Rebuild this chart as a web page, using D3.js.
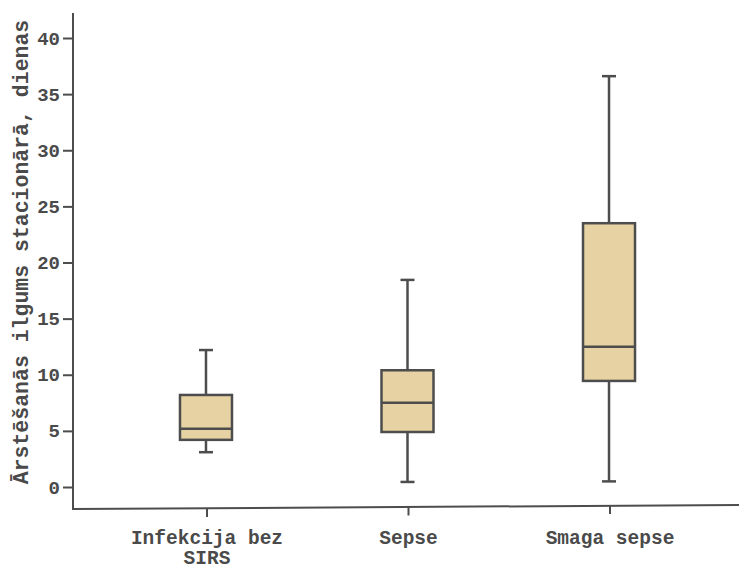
<!DOCTYPE html>
<html>
<head>
<meta charset="utf-8">
<script src="https://cdn.jsdelivr.net/npm/d3@7"></script>
<style>
  body { margin: 0; background: #fff; }
  text { font-family: "Liberation Mono", "Courier New", monospace; font-weight: bold; fill: #4a4a4a; }
</style>
</head>
<body>
<script>
    "use strict";
    // box plot values (days)
    let categories = ["Infekcija bez\nSIRS", "Sepse", "Smaga sepse"];
    let whiskerLow = [3.1, 0.45, 0.5];
    let q1 = [4.2, 4.9, 9.45];
    let median = [5.2, 7.5, 12.5];
    let q3 = [8.2, 10.4, 23.5];
    let whiskerHigh = [12.2, 18.45, 36.6];
    let yTicks = [0, 5, 10, 15, 20, 25, 30, 35, 40];

    let width = 739, height = 569;
    let ink = "#4d4d4d";

    let svg = d3.select("body").append("svg")
        .attr("width", width)
        .attr("height", height);

    let data = categories.map((c, i) => ({
        name: c, lo: whiskerLow[i], q1: q1[i], med: median[i], q3: q3[i], hi: whiskerHigh[i]
    }));

    let xScale = d3.scalePoint()
        .domain(categories)
        .range([75, 740])
        .padding(0.65);

    let yScale = d3.scaleLinear()
        .domain([0, 40])
        .range([487, 38]);

    // axes
    let yAxis = d3.axisLeft(yScale).tickValues(yTicks).tickSize(10).tickPadding(3);
    let gy = svg.append("g")
        .attr("transform", "translate(73,0)")
        .call(yAxis);
    gy.select(".domain").remove();
    gy.selectAll(".tick line").attr("stroke", ink).attr("stroke-width", 2);
    gy.selectAll(".tick text").style("font-size", "19px").attr("fill", "#4a4a4a");

    svg.append("line")
        .attr("x1", 73).attr("x2", 73)
        .attr("y1", 13).attr("y2", 509)
        .attr("stroke", ink).attr("stroke-width", 2);
    svg.append("line")
        .attr("x1", 72).attr("x2", 739)
        .attr("y1", 509).attr("y2", 505)
        .attr("stroke", ink).attr("stroke-width", 2);

    let gx = svg.append("g");
    gx.selectAll(".xtick")
        .data(categories)
        .enter()
        .append("line")
            .attr("x1", d => xScale(d) + 1).attr("x2", d => xScale(d) + 1)
            .attr("y1", (d, i) => 508 - i * 1.5).attr("y2", (d, i) => 517 - i * 1.5)
            .attr("stroke", ink).attr("stroke-width", 2);

    gx.selectAll(".xlabel")
        .data(categories)
        .enter()
        .append("text")
            .attr("x", d => xScale(d) + 1)
            .attr("y", 544)
            .attr("text-anchor", "middle")
            .style("font-size", "19.5px")
            .each(function(d) {
                let lines = d.split("\n");
                let t = d3.select(this);
                lines.forEach((l, k) => {
                    t.append("tspan")
                        .attr("x", xScale(d) + 1)
                        .attr("dy", k === 0 ? 0 : 19.5)
                        .text(l);
                });
            });

    // y title
    svg.append("text")
        .attr("transform", "translate(28,252) rotate(-90)")
        .attr("text-anchor", "middle")
        .style("font-size", "21.5px")
        .text("Ārstēšanās ilgums stacionārā, dienas");

    // boxes
    let boxW = 52, capW = 14;
    let g = svg.selectAll(".box")
        .data(data)
        .enter()
        .append("g");

    g.append("line")
        .attr("x1", d => xScale(d.name)).attr("x2", d => xScale(d.name))
        .attr("y1", d => yScale(d.lo)).attr("y2", d => yScale(d.hi))
        .attr("stroke", ink).attr("stroke-width", 2.5);
    g.append("line")
        .attr("x1", d => xScale(d.name) - capW / 2).attr("x2", d => xScale(d.name) + capW / 2)
        .attr("y1", d => yScale(d.hi)).attr("y2", d => yScale(d.hi))
        .attr("stroke", ink).attr("stroke-width", 2.5);
    g.append("line")
        .attr("x1", d => xScale(d.name) - capW / 2).attr("x2", d => xScale(d.name) + capW / 2)
        .attr("y1", d => yScale(d.lo)).attr("y2", d => yScale(d.lo))
        .attr("stroke", ink).attr("stroke-width", 2.5);
    g.append("rect")
        .attr("x", d => xScale(d.name) - boxW / 2)
        .attr("width", boxW)
        .attr("y", d => yScale(d.q3))
        .attr("height", d => yScale(d.q1) - yScale(d.q3))
        .attr("fill", "#e6d2a2")
        .attr("stroke", ink).attr("stroke-width", 2.5);
    g.append("line")
        .attr("x1", d => xScale(d.name) - boxW / 2).attr("x2", d => xScale(d.name) + boxW / 2)
        .attr("y1", d => yScale(d.med)).attr("y2", d => yScale(d.med))
        .attr("stroke", ink).attr("stroke-width", 2.5);
</script>
</body>
</html>
